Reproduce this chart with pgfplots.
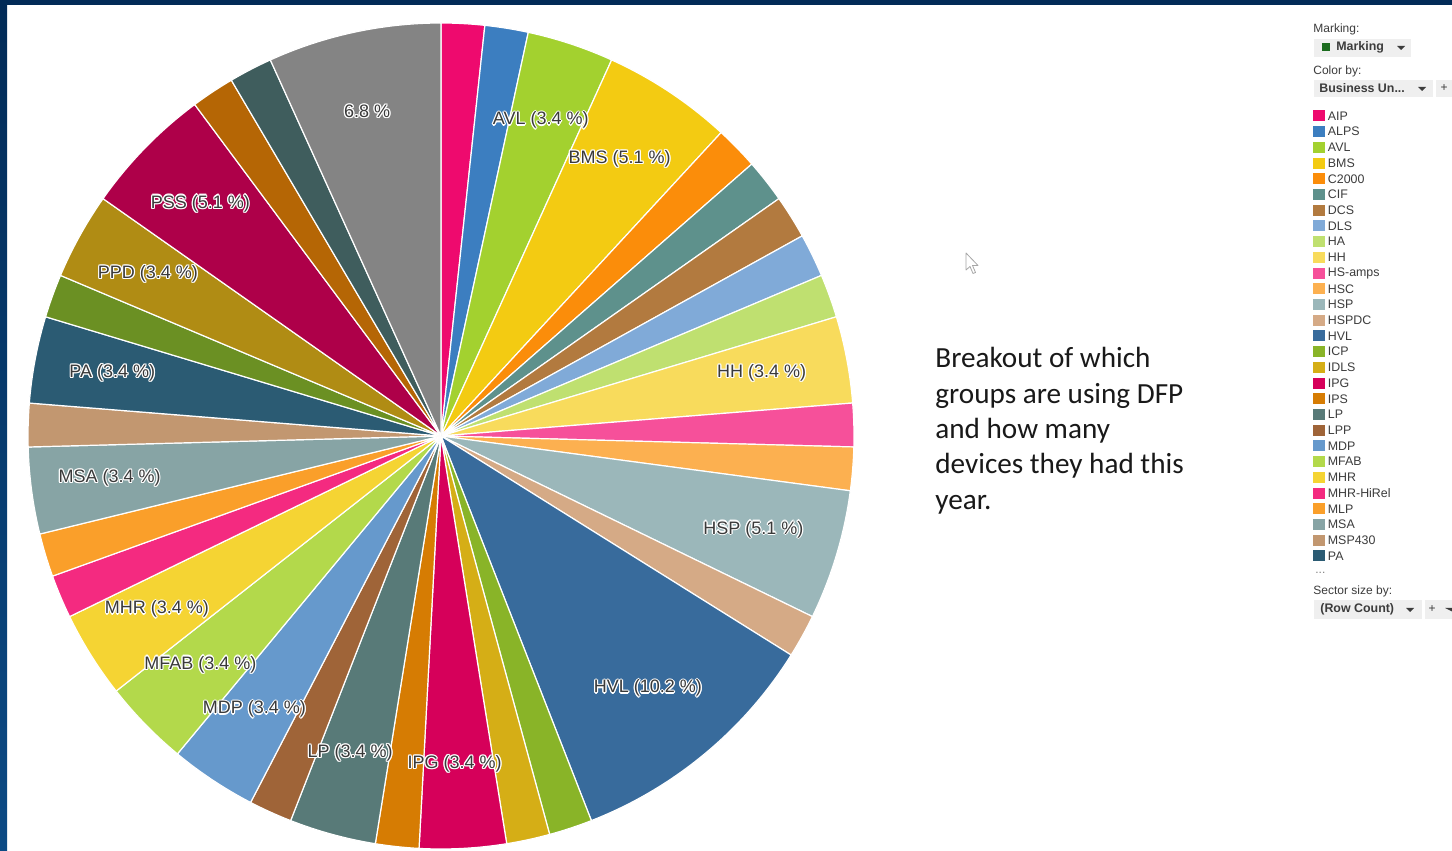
\documentclass[border=0pt]{standalone}
\usepackage{pgfplots}
\pgfplotsset{compat=1.18}
\usepackage{pgfplotstable}
\usepackage{fontspec}
\setmainfont{Liberation Sans}
\newfontfamily\calib{Carlito}

\definecolor{cAIP}{HTML}{EE0A6E}
\definecolor{cALPS}{HTML}{3C7EC0}
\definecolor{cAVL}{HTML}{A3D12F}
\definecolor{cBMS}{HTML}{F3CB12}
\definecolor{cCtwo}{HTML}{FB8D0A}
\definecolor{cCIF}{HTML}{5E918C}
\definecolor{cDCS}{HTML}{B27A3F}
\definecolor{cDLS}{HTML}{80AAD8}
\definecolor{cHA}{HTML}{BFE070}
\definecolor{cHH}{HTML}{F8DB5C}
\definecolor{cHSamps}{HTML}{F6509A}
\definecolor{cHSC}{HTML}{FCB050}
\definecolor{cHSP}{HTML}{9BB7BA}
\definecolor{cHSPDC}{HTML}{D5AA86}
\definecolor{cHVL}{HTML}{386B9C}
\definecolor{cICP}{HTML}{89B428}
\definecolor{cIDLS}{HTML}{D5AE16}
\definecolor{cIPG}{HTML}{D6005A}
\definecolor{cIPS}{HTML}{D67C03}
\definecolor{cLP}{HTML}{587A78}
\definecolor{cLPP}{HTML}{9F6438}
\definecolor{cMDP}{HTML}{6699CC}
\definecolor{cMFAB}{HTML}{B3D94B}
\definecolor{cMHR}{HTML}{F5D433}
\definecolor{cMHRH}{HTML}{F42A80}
\definecolor{cMLP}{HTML}{FA9F2A}
\definecolor{cMSA}{HTML}{87A4A5}
\definecolor{cMSP}{HTML}{C29770}
\definecolor{cPA}{HTML}{2B5B73}
\definecolor{cPMP}{HTML}{6B9023}
\definecolor{cPPD}{HTML}{B08C14}
\definecolor{cPSS}{HTML}{AE0049}
\definecolor{cPWR}{HTML}{B56605}
\definecolor{cQSC}{HTML}{3F5D5D}
\definecolor{cOther}{HTML}{848484}
\definecolor{navy}{HTML}{022B57}
\definecolor{navyb}{HTML}{0C4A84}
\definecolor{labgray}{HTML}{3A3A3A}
\definecolor{uigray}{HTML}{EFEFEF}
\definecolor{uitext}{HTML}{3C3C3C}
\definecolor{markgreen}{HTML}{1B6B1E}

% name, count (row count), colour, label (0 none, 1 name+pct, 2 pct only)
\pgfplotstableread[col sep=comma]{
name,n,col,lab
AIP,1,cAIP,0
ALPS,1,cALPS,0
AVL,2,cAVL,1
BMS,3,cBMS,1
C2000,1,cCtwo,0
CIF,1,cCIF,0
DCS,1,cDCS,0
DLS,1,cDLS,0
HA,1,cHA,0
HH,2,cHH,1
HS-amps,1,cHSamps,0
HSC,1,cHSC,0
HSP,3,cHSP,1
HSPDC,1,cHSPDC,0
HVL,6,cHVL,1
ICP,1,cICP,0
IDLS,1,cIDLS,0
IPG,2,cIPG,1
IPS,1,cIPS,0
LP,2,cLP,1
LPP,1,cLPP,0
MDP,2,cMDP,1
MFAB,2,cMFAB,1
MHR,2,cMHR,1
MHR-HiRel,1,cMHRH,0
MLP,1,cMLP,0
MSA,2,cMSA,1
MSP430,1,cMSP,0
PA,2,cPA,1
PMP,1,cPMP,0
PPD,2,cPPD,1
PSS,3,cPSS,1
PWR,1,cPWR,0
QSC,1,cQSC,0
Other,4,cOther,2
}\piedata

\tikzset{
  halo/.style={text=white,font=\fontsize{9}{10}\selectfont,inner sep=0pt},
  lab/.style={text=labgray,font=\fontsize{9}{10}\selectfont,inner sep=0pt},
}
\newcommand\pielabel[3]{%
  \node[halo,xshift=-1.4pt,yshift=1pt] at (axis cs:#1,#2) {#3};
  \node[halo,xshift=-2.6pt,yshift=1pt] at (axis cs:#1,#2) {#3};
  \node[halo,xshift=-2pt,yshift=1.6pt] at (axis cs:#1,#2) {#3};
  \node[halo,xshift=-2pt,yshift=0.4pt] at (axis cs:#1,#2) {#3};
  \node[halo,xshift=-1.55pt,yshift=1.45pt] at (axis cs:#1,#2) {#3};
  \node[halo,xshift=-2.45pt,yshift=1.45pt] at (axis cs:#1,#2) {#3};
  \node[halo,xshift=-1.55pt,yshift=0.55pt] at (axis cs:#1,#2) {#3};
  \node[halo,xshift=-2.45pt,yshift=0.55pt] at (axis cs:#1,#2) {#3};
  \node[lab,xshift=-2pt,yshift=1pt] at (axis cs:#1,#2) {#3};
}

\begin{document}
\begin{tikzpicture}
\begin{scope}[x=0.5pt,y=-0.5pt]
  \useasboundingbox (0,0) rectangle (1452,850);
  \fill[white] (0,0) rectangle (1452,850);
  \shade[top color=navy,bottom color=navyb] (0,0) rectangle (7,850);
  \fill[navy] (0,0) rectangle (1452,5);
\end{scope}

% total row count
\pgfplotstablegetrowsof{\piedata}
\pgfmathtruncatemacro\nrows{\pgfplotsretval-1}
\def\total{0}
\pgfplotsforeachungrouped \i in {0,...,\nrows}{%
  \pgfplotstablegetelem{\i}{n}\of\piedata
  \pgfmathsetmacro\total{\total+\pgfplotsretval}%
}

\begin{axis}[at={(220.5pt,-218pt)},anchor=center,scale only axis,
  width=413pt,height=413pt,xmin=-1,xmax=1,ymin=-1,ymax=1,hide axis,clip=false]
% slices
\def\cum{0}
\pgfplotsforeachungrouped \i in {0,...,\nrows}{%
  \pgfplotstablegetelem{\i}{n}\of\piedata \let\slval=\pgfplotsretval
  \pgfplotstablegetelem{\i}{col}\of\piedata \let\slcol=\pgfplotsretval
  \pgfmathsetmacro\angA{90-\cum/\total*360}%
  \pgfmathsetmacro\angB{90-(\cum+\slval)/\total*360}%
  \pgfmathsetmacro\xa{cos(\angA)}%
  \pgfmathsetmacro\ya{sin(\angA)}%
  \pgfmathsetmacro\cum{\cum+\slval}%
  \edef\temp{\noexpand\fill[fill=\slcol,draw=white,line width=0.6pt,line join=round]
    (axis cs:0,0) -- (axis cs:\xa,\ya) arc[start angle=\angA,end angle=\angB,radius=206.5pt] -- cycle;}%
  \temp
}
% labels
\def\cum{0}
\pgfplotsforeachungrouped \i in {0,...,\nrows}{%
  \pgfplotstablegetelem{\i}{n}\of\piedata \let\slval=\pgfplotsretval
  \pgfplotstablegetelem{\i}{name}\of\piedata \let\slname=\pgfplotsretval
  \pgfplotstablegetelem{\i}{lab}\of\piedata \let\sllab=\pgfplotsretval
  \pgfmathsetmacro\angM{90-(\cum+\slval/2)/\total*360}%
  \pgfmathsetmacro\cum{\cum+\slval}%
  \ifnum\sllab>0
    \pgfmathsetmacro\xl{0.80*cos(\angM)}%
    \pgfmathsetmacro\yl{0.80*sin(\angM)}%
    \pgfmathtruncatemacro\tenth{round(\slval/\total*1000)}%
    \pgfmathtruncatemacro\ip{\tenth/10}%
    \pgfmathtruncatemacro\fp{\tenth-10*\ip}%
    \ifnum\sllab=1
      \edef\ltext{\slname\space(\ip.\fp\space\noexpand\%)}%
    \else
      \edef\ltext{\ip.\fp\space\noexpand\%}%
    \fi
    \edef\temp{\noexpand\pielabel{\xl}{\yl}{\ltext}}%
    \temp
  \fi
}
\end{axis}

\begin{scope}[x=0.5pt,y=-0.5pt]
  % description text
  \begin{scope}[every node/.style={anchor=base west,inner sep=0pt,text=black!90,
      font=\calib\fontsize{14.6}{17.6}\selectfont}]
    \node at (935,368) {Breakout of which};
    \node at (935,403.5) {groups are using DFP};
    \node at (935,439) {and how many};
    \node at (935,474) {devices they had this};
    \node at (935,509.5) {year.};
  \end{scope}
  % mouse pointer
  \draw[gray!70,fill=white,line width=0.4pt,line join=round]
    (966,253) -- (966,270) -- (970,266.5) -- (973,273.5) -- (975.5,272.5) -- (972.5,265.5) -- (978,265.5) -- cycle;

  % legend panel
  \begin{scope}[every node/.style={inner sep=0pt,text=uitext,font=\fontsize{6}{7}\selectfont}]
    \node[anchor=west] at (1313,29) {Marking:};
    \fill[uigray] (1314,39) rectangle (1411,57);
    \fill[markgreen] (1322,43) rectangle (1330,51);
    \node[anchor=west,font=\bfseries\fontsize{6.2}{7}\selectfont] at (1336,47) {Marking};
    \fill[uitext] (1397,46) -- (1405,46) -- (1401,50) -- cycle;
    \node[anchor=west] at (1313,71) {Color by:};
    \fill[uigray] (1314,80) rectangle (1433,97);
    \node[anchor=west,font=\bfseries\fontsize{6.2}{7}\selectfont] at (1319,88.5) {Business Un...};
    \fill[uitext] (1418,87) -- (1426,87) -- (1422,91) -- cycle;
    \fill[uigray] (1436,80) rectangle (1452,97);
    \node at (1444,88.5) {+};
    \foreach \nm/\cl [count=\k from 0] in {AIP/cAIP,ALPS/cALPS,AVL/cAVL,BMS/cBMS,C2000/cCtwo,
        CIF/cCIF,DCS/cDCS,DLS/cDLS,HA/cHA,HH/cHH,HS-amps/cHSamps,HSC/cHSC,HSP/cHSP,
        HSPDC/cHSPDC,HVL/cHVL,ICP/cICP,IDLS/cIDLS,IPG/cIPG,IPS/cIPS,LP/cLP,LPP/cLPP,
        MDP/cMDP,MFAB/cMFAB,MHR/cMHR,MHR-HiRel/cMHRH,MLP/cMLP,MSA/cMSA,MSP430/cMSP,PA/cPA}{
      \fill[\cl] (1313,{110.5+15.71*\k}) rectangle (1325,{121.5+15.71*\k});
      \node[anchor=west,font=\fontsize{6.2}{7}\selectfont] at (1327.5,{116+15.71*\k}) {\nm};
    }
    \node[anchor=west,text=gray] at (1315,573) {...};
    \node[anchor=west] at (1313,591) {Sector size by:};
    \fill[uigray] (1314,600) rectangle (1422,619);
    \node[anchor=west,font=\bfseries\fontsize{6.2}{7}\selectfont] at (1320,609.5) {(Row Count)};
    \fill[uitext] (1406,608) -- (1414,608) -- (1410,612) -- cycle;
    \fill[uigray] (1425,600) rectangle (1452,619);
    \node at (1432,609.5) {+};
    \fill[uitext] (1445,608) -- (1452,608) -- (1452,611.5) -- cycle;
  \end{scope}
\end{scope}
\end{tikzpicture}
\end{document}
